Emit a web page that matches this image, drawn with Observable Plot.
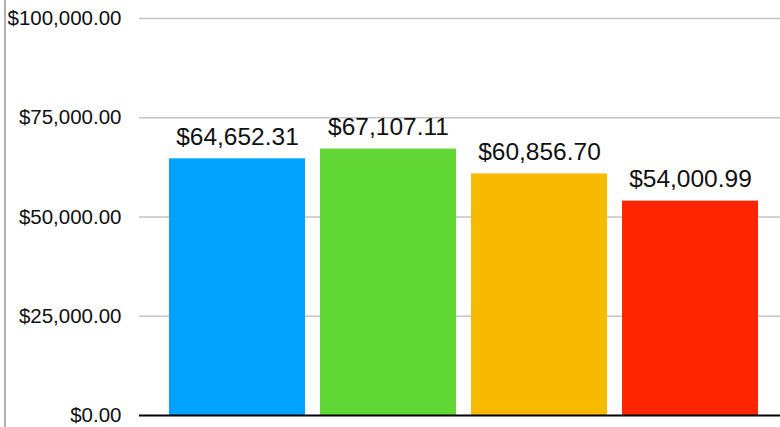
<!DOCTYPE html>
<html>
<head>
<meta charset="utf-8">
<script src="https://cdn.jsdelivr.net/npm/d3@7"></script>
<script src="https://cdn.jsdelivr.net/npm/@observablehq/plot@0.6"></script>
<style>
  body { margin: 0; background: #fff; }
  #chart { position: relative; width: 780px; height: 427px; }
  #chart::before { content: ""; position: absolute; left: 4px; top: 0; height: 427px; border-left: 2px solid #b0b0b0; }
</style>
</head>
<body>
<div id="chart"></div>
<script>
const categories = ["A", "B", "C", "D"];
const values = [64652.31, 67107.11, 60856.70, 54000.99];
const colors = ["#00A2FF", "#61D836", "#F8BA00", "#FF2600"];
const yTicks = [0, 25000, 50000, 75000, 100000];

const data = categories.map((c, i) => ({cat: c, value: values[i], color: colors[i]}));
const money = v => "$" + d3.format(",.2f")(v);

const chart = Plot.plot({
  width: 780,
  height: 427,
  marginLeft: 139,
  marginRight: 0,
  marginTop: 18,
  marginBottom: 12,
  style: {fontFamily: "Liberation Sans, Arial, sans-serif", background: "#fff"},
  x: {domain: categories, range: [159.5, 766.5], paddingInner: 0.1, paddingOuter: 0.05, axis: null},
  y: {domain: [0, 100000], ticks: yTicks, axis: null},
  marks: [
    Plot.ruleY(yTicks.filter(d => d > 0), {stroke: "#c4c4c4", strokeWidth: 1.5}),
    Plot.barY(data, {x: "cat", y: "value", fill: "color"}),
    Plot.ruleY([0], {stroke: "#000", strokeWidth: 2}),
    Plot.text(yTicks, {x: null, y: d => d, text: money, frameAnchor: "left", textAnchor: "end", dx: -18, fontSize: 20.5, fill: "#111"}),
    Plot.text(data, {x: "cat", y: "value", text: d => money(d.value), dy: -14, lineAnchor: "bottom", fontSize: 24.5, fill: "#111"})
  ]
});
document.getElementById("chart").appendChild(chart);
</script>
</body>
</html>
